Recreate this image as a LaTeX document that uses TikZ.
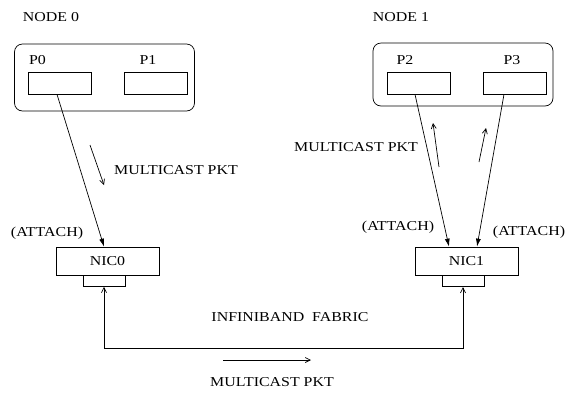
\documentclass[tikz,border=0pt]{standalone}
\usepackage{fontspec}
\setmainfont{Liberation Serif}[FakeStretch=1.17]
\usetikzlibrary{arrows.meta}
\begin{document}
\begin{tikzpicture}[x=1pt, y=-1pt, >={Latex[length=8pt,width=5pt]}, line width=0.7pt,
        every node/.style={font=\fontsize{13.6}{15}\selectfont, inner sep=0pt},
        hostbox/.style={draw, rounded corners=8pt, minimum width=180pt},
        procbox/.style={draw, minimum width=63pt, minimum height=22pt},
        nicbox/.style={draw, minimum width=103pt, minimum height=28pt},
        portbox/.style={draw, minimum width=42pt, minimum height=11.5pt},
        barb/.style={-{Straight Barb[length=5pt,width=5pt]}},
        barbboth/.style={{Straight Barb[length=5pt,width=5pt]}-{Straight Barb[length=5pt,width=5pt]}}]
        \useasboundingbox (0,0) rectangle (568,392);

        % hosts
        \node (lbl0) at (51,17) {NODE 0};
        \node[hostbox, minimum height=67pt] (node0) at (104.5,77.5) {};
        \node (lblp0) at (37.5,60) {P0};
        \node (lblp1) at (148,60) {P1};
        \node[procbox] (p0) at (59.5,83) {};
        \node[procbox] (p1) at (156,83) {};

        \node (lbl1) at (401,17) {NODE 1};
        \node[hostbox, minimum height=63pt] (node1) at (463,74.5) {};
        \node (lblp2) at (405,60) {P2};
        \node (lblp3) at (512,60) {P3};
        \node[procbox] (p2) at (418.5,83) {};
        \node[procbox] (p3) at (514.5,83) {};

        % network cards
        \node[nicbox] (nic0) at (107.5,261) {NIC0};
        \node[portbox] (port0) at (104,280.75) {};
        \node[nicbox] (nic1) at (466.5,261) {NIC1};
        \node[portbox] (port1) at (463,281) {};

        \node (att0) at (47,233) {(ATTACH)};
        \node (att1) at (398,227) {(ATTACH)};
        \node (att2) at (529,232) {(ATTACH)};

        % attach links
        \draw[->] ([xshift=-2.5pt]p0.south) -- (port0.center |- nic0.north);
        \draw[->] ([xshift=-3.5pt]p2.south) -- ([xshift=-17.5pt]nic1.north);
        \draw[->] ([xshift=-10.5pt]p3.south) -- ([xshift=10.5pt]nic1.north);

        % fabric
        \coordinate (fab) at (104,348);
        \draw[barbboth] (port0.south) -- (fab) -| (port1.south);
        \node (lblfab) at (290,317) {INFINIBAND\ \ FABRIC};

        % packet direction
        \coordinate (d0a) at (90,145);  \coordinate (d0b) at (104,185);
        \coordinate (d1a) at (439,167); \coordinate (d1b) at (433,123);
        \coordinate (d2a) at (479,162); \coordinate (d2b) at (486,128);
        \coordinate (d3a) at (223,360); \coordinate (d3b) at (311,360);
        \draw[barb] (d0a) -- (d0b);
        \draw[barb] (d1a) -- (d1b);
        \draw[barb] (d2a) -- (d2b);
        \draw[barb] (d3a) -- (d3b);
        \node (pkt0) at (176,170) {MULTICAST PKT};
        \node (pkt1) at (356,147) {MULTICAST PKT};
        \node (pkt2) at (272,382) {MULTICAST PKT};
    \end{tikzpicture}
\end{document}
